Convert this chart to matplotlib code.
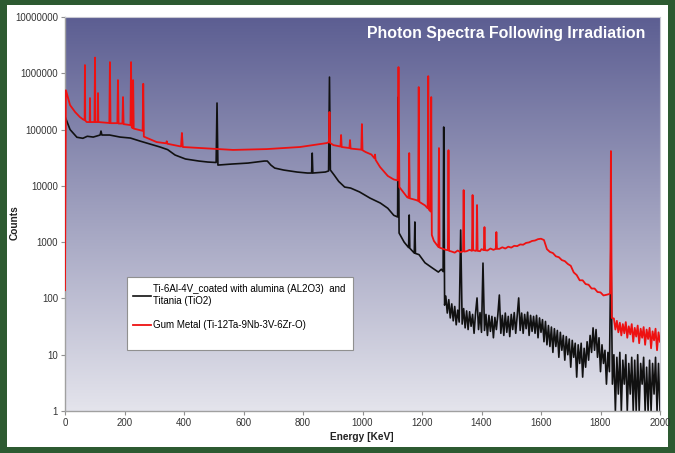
import numpy as np
import matplotlib
matplotlib.use("Agg")
import matplotlib.pyplot as plt
from matplotlib.patches import Rectangle

plt.rcParams['font.family'] = ['Liberation Sans', 'DejaVu Sans']

# --- Ti-6Al-4V coated with alumina/titania (black) ---
ti_energy = [0, 1, 17, 40, 60, 75, 95, 118, 121, 124,
             150, 185, 220, 252, 286, 320, 345, 370, 405, 450,
             480, 508, 511, 514, 560, 615, 670, 680, 692, 705,
             735, 780, 815, 829, 831, 833, 875, 886, 889, 892,
             905, 920, 940, 960, 990, 1025, 1060, 1085, 1105, 1118,
             1120, 1123, 1140, 1155, 1157, 1159, 1174, 1176, 1178, 1190,
             1210, 1235, 1255, 1265, 1271, 1273, 1276]
ti_counts = [36, 166000, 100000, 73000, 70000, 76000, 73600, 80000, 94000, 80000,
             80000, 73600, 70700, 62500, 55300, 48900, 44000, 35300, 30000, 27600,
             26500, 26000, 296000, 23400, 24400, 25400, 27600, 27600, 23400, 20700,
             19100, 17600, 16900, 16900, 38200, 16900, 17600, 18400, 855000, 19100,
             15500, 12000, 9520, 9140, 7800, 6070, 4950, 4000, 3000, 2800,
             378000, 1450, 1000, 800, 3030, 780, 640, 2280, 630, 600,
             430, 347, 294, 330, 300, 111000, 76]
# noisy tail, one channel every 5 keV from 1280 to 2000 keV
ti_tail_energy = np.arange(1280, 2001, 5)
ti_tail_counts = [110, 55, 95, 45, 80, 40, 72, 34, 62, 38,
                  1640, 35, 66, 30, 60, 28, 58, 32, 52, 24,
                  55, 102, 28, 56, 25, 425, 27, 52, 22, 50,
                  26, 48, 20, 46, 28, 52, 115, 24, 50, 22,
                  55, 25, 48, 21, 52, 28, 56, 24, 50, 102,
                  27, 55, 24, 52, 29, 57, 22, 50, 26, 48,
                  24, 50, 20, 45, 25, 42, 17, 39, 15, 33,
                  14, 31, 11, 29, 14, 27, 9, 25, 12, 22,
                  8, 21, 10, 19, 6, 18, 9, 16, 4, 15,
                  7, 16, 4, 13, 6, 17, 8, 22, 11, 30,
                  12, 28, 9, 20, 5, 15, 7, 12, 3, 11,
                  5, 1000, 3, 10, 1, 9, 2, 11, 1, 8,
                  3, 10, 1, 7, 2, 9, 1, 8, 1, 10,
                  1, 7, 3, 9, 1, 6, 1, 8, 1, 7,
                  2, 9, 1, 7, 1]

# --- Gum Metal (red) ---
gum_energy = [0, 3, 17, 34, 50, 62, 66, 67, 68, 73,
              83, 84, 85, 99, 101, 102, 110, 111, 112, 149,
              151, 153, 176, 178, 180, 193, 195, 197, 220, 222,
              224, 227, 229, 231, 261, 263, 265, 308, 340, 342,
              344, 390, 393, 396, 454, 565, 678, 790, 880, 887,
              889, 891, 902, 926, 928, 930, 956, 958, 960, 996,
              998, 1000, 1010, 1030, 1040, 1042, 1044, 1059, 1085, 1105,
              1118, 1121, 1124, 1150, 1155, 1157, 1159, 1180, 1187, 1189,
              1191, 1210, 1219, 1221, 1223, 1229, 1231, 1233, 1240, 1255,
              1257, 1259, 1280, 1287, 1289, 1291, 1300, 1310, 1320, 1330,
              1338, 1340, 1342, 1350, 1360, 1368, 1370, 1372, 1380, 1383,
              1385, 1387, 1395, 1400, 1408, 1410, 1412, 1420, 1430, 1440,
              1448, 1450, 1452, 1460, 1470, 1480, 1490, 1500, 1510, 1520,
              1530, 1540, 1550, 1560, 1570, 1580, 1590, 1600, 1610, 1620,
              1630, 1640, 1650, 1660, 1670, 1680, 1690, 1700, 1710, 1720,
              1730, 1740, 1750, 1760, 1770, 1780, 1790, 1800, 1810, 1820,
              1830, 1833, 1835, 1838]
gum_counts = [140, 500000, 272000, 205000, 167000, 150000, 148000, 1400000, 145000, 136000,
              136000, 363000, 136000, 136000, 1900000, 136000, 136000, 445000, 136000, 131000,
              1580000, 130000, 130000, 757000, 128000, 128000, 378000, 125000, 120000, 1580000,
              112000, 106000, 757000, 104000, 95000, 650000, 75000, 60000, 57000, 62000,
              56000, 50000, 87000, 49000, 47000, 43500, 45000, 49000, 57600, 60000,
              205000, 58000, 53000, 50000, 80000, 49000, 47000, 65000, 46000, 44000,
              125000, 43000, 40000, 36000, 31000, 36000, 29000, 21600, 15000, 13000,
              12500, 1290000, 9500, 6300, 6100, 38200, 6000, 5600, 5400, 569000,
              5200, 4500, 4000, 890000, 3800, 3500, 378000, 1340, 1050, 820,
              46900, 800, 730, 720, 43000, 700, 680, 650, 710, 660,
              690, 8400, 680, 690, 730, 700, 6870, 720, 700, 710,
              4560, 700, 690, 750, 720, 1850, 720, 710, 770, 730,
              760, 1510, 760, 760, 810, 770, 830, 800, 860, 850,
              910, 900, 970, 990, 1050, 1070, 1130, 1150, 1090, 750,
              670, 640, 560, 540, 480, 460, 410, 380, 290, 260,
              210, 210, 180, 175, 150, 150, 130, 128, 113, 116,
              120, 125, 41500, 45]
gum_tail_energy = np.arange(1845, 2001, 5)
gum_tail_counts = [44, 28, 40, 25, 37, 22, 35, 24, 38, 20,
                   32, 23, 35, 17, 30, 21, 33, 16, 29, 20,
                   31, 15, 28, 19, 30, 13, 26, 18, 29, 12,
                   25, 17]

ti_label = "Ti-6Al-4V_coated with alumina (AL2O3)  and\nTitania (TiO2)"
gum_label = "Gum Metal (Ti-12Ta-9Nb-3V-6Zr-O)"
title = "Photon Spectra Following Irradiation"
xticks = [0, 200, 400, 600, 800, 1000, 1200, 1400, 1600, 1800, 2000]
yticks = [1, 10, 100, 1000, 10000, 100000, 1000000, 10000000]

fig = plt.figure(figsize=(6.75, 4.53), dpi=100, facecolor='#2d5a31')
# white slide panel behind everything
fig.patches.append(Rectangle((7 / 675, 1 - 447 / 453), 661 / 675, 442 / 453,
                             transform=fig.transFigure, facecolor='white',
                             edgecolor='none', zorder=-10))

ax = fig.add_axes([65 / 675, 1 - 411 / 453, 595 / 675, 394 / 453])
ax.set_facecolor('none')
ax.set_zorder(1)

# vertical gradient background
top = np.array([92, 94, 146]) / 255
bot = np.array([228, 228, 236]) / 255
t = np.linspace(0, 1, 256)[:, None]
grad = (top * (1 - t) + bot * t)[:, None, :]
ax.imshow(grad, extent=[0, 1, 0, 1], transform=ax.transAxes,
          aspect='auto', zorder=0)

ax.plot(np.concatenate([ti_energy, ti_tail_energy]),
        np.concatenate([ti_counts, ti_tail_counts]),
        color='#111111', lw=1.2, label=ti_label, zorder=2)
ax.plot(np.concatenate([gum_energy, gum_tail_energy]),
        np.concatenate([gum_counts, gum_tail_counts]),
        color='#ee1111', lw=1.3, label=gum_label, zorder=3)

ax.set_yscale('log')
ax.set_xlim(0, 2000)
ax.set_ylim(1, 10000000)
ax.set_xticks(xticks)
ax.set_xticklabels([str(v) for v in xticks])
ax.set_yticks(yticks)
ax.set_yticklabels([str(v) for v in yticks])
ax.minorticks_off()
ax.tick_params(labelsize=6.9, colors='#909090', labelcolor='#333333',
               length=3, width=0.8, pad=2)

for side in ['left', 'bottom']:
    ax.spines[side].set_color('#a0a0a0')
    ax.spines[side].set_linewidth(1.0)
for side in ['top', 'right']:
    ax.spines[side].set_color('#c8c8d2')
    ax.spines[side].set_linewidth(0.8)

ax.text(0.975, 0.957, title, transform=ax.transAxes, ha='right', va='center',
        color='white', fontsize=11.4, fontweight='bold', zorder=5)

fig.text(0.022, 0.508, "Counts", rotation=90, ha='center', va='center',
         fontsize=7.3, fontweight='bold', color='#222222')
fig.text(0.536, 0.035, "Energy [KeV]", ha='center', va='center',
         fontsize=7.3, fontweight='bold', color='#222222')

# legend box drawn separately so it keeps the tall empty bottom of the original
ax.add_patch(Rectangle((0.1042, 0.155), 0.38, 0.185, transform=ax.transAxes,
                       facecolor='white', edgecolor='#909090', lw=0.8,
                       zorder=5))
leg = ax.legend(loc='upper left', bbox_to_anchor=(0.1143, 0.322),
                fontsize=7.0, frameon=False,
                handlelength=1.9, handletextpad=0.15, borderpad=0,
                labelspacing=1.5, borderaxespad=0)
leg.set_zorder(6)

fig.savefig("out.png", dpi=100, facecolor=fig.get_facecolor())
